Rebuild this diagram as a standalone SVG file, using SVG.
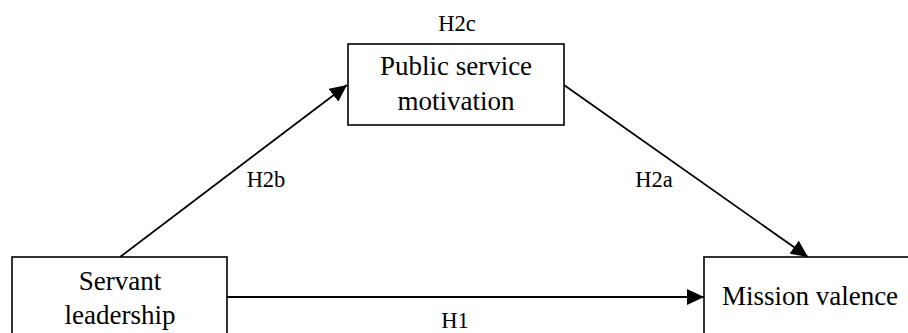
<svg xmlns="http://www.w3.org/2000/svg" width="908" height="333" viewBox="0 0 908 333">
<defs>
<style>
.box{fill:#fff;stroke:#000;stroke-width:1.6}
.t{font-family:"Liberation Serif","Times New Roman",serif;font-size:27px;fill:#000;text-anchor:middle}
.l{font-family:"Liberation Serif","Times New Roman",serif;font-size:22.5px;fill:#000;text-anchor:middle}
.c{stroke:#000;stroke-width:1.8;fill:none}
</style>
<marker id="ah" markerWidth="18" markerHeight="16" refX="17" refY="8" orient="auto" markerUnits="userSpaceOnUse">
<path d="M0,0 L17,8 L0,16 Z" fill="#000"/>
</marker>
</defs>
<rect width="908" height="333" fill="#fff"/>
<g id="connectors">
<line class="c" x1="120" y1="257" x2="347" y2="85" marker-end="url(#ah)"/>
<line class="c" x1="564" y1="85" x2="808" y2="257" marker-end="url(#ah)"/>
<line class="c" x1="227" y1="297" x2="704" y2="297" marker-end="url(#ah)"/>
<text class="l" x="266" y="187">H2b</text>
<text class="l" x="654" y="187">H2a</text>
<text class="l" x="455" y="328">H1</text>
<text class="l" x="457" y="31">H2c</text>
</g>
<g id="servant">
<rect class="box" x="12" y="257" width="215" height="90"/>
<text class="t" x="120" y="290">Servant</text>
<text class="t" x="120" y="324">leadership</text>
</g>
<g id="psm">
<rect class="box" x="348" y="44" width="216" height="81"/>
<text class="t" x="456" y="75">Public service</text>
<text class="t" x="456" y="110">motivation</text>
</g>
<g id="mission">
<rect class="box" x="704" y="257" width="214" height="90"/>
<text class="t" x="810" y="305">Mission valence</text>
</g>
</svg>
